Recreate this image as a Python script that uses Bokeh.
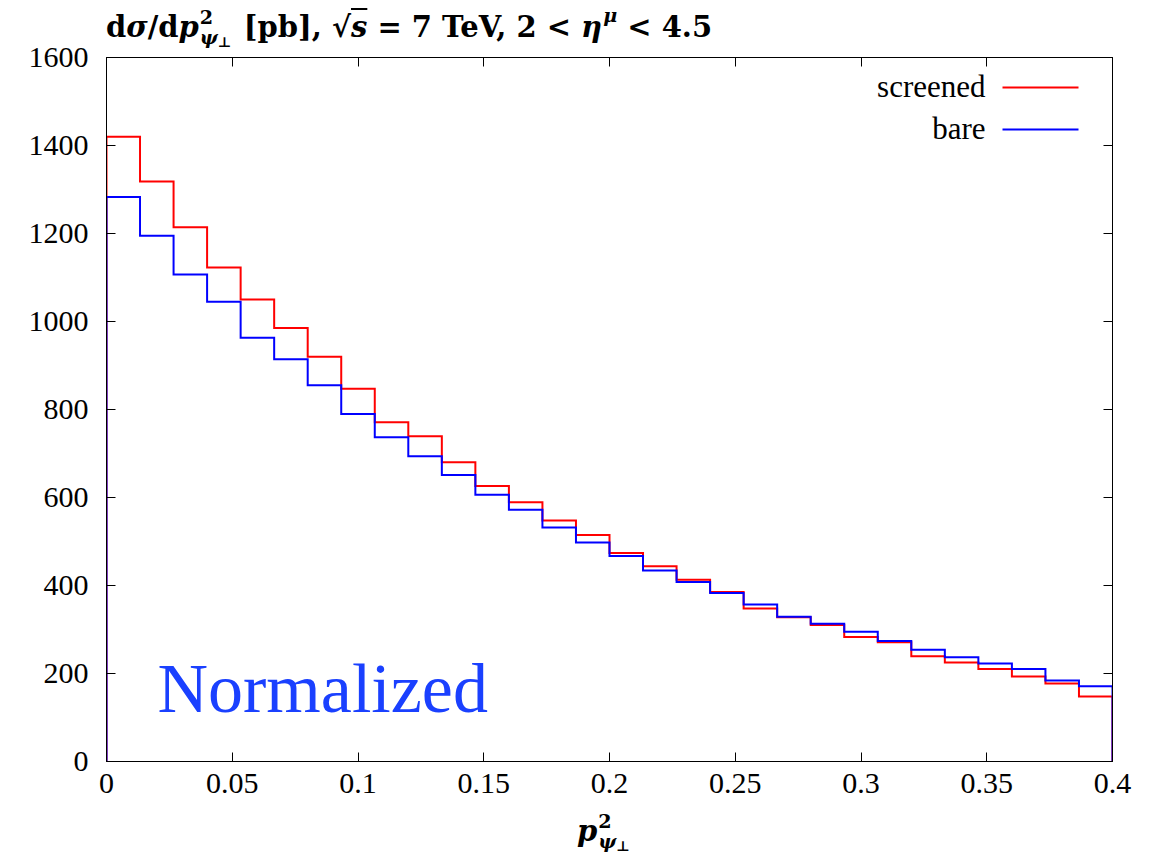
import numpy as np
from bokeh.plotting import figure
from bokeh.models import Range1d, LinearAxis, FixedTicker, Label, Arrow, Div
from bokeh.layouts import column
from bokeh.embed import file_html
from bokeh.resources import INLINE

# ---- data -------------------------------------------------------------
x_min, x_max, n_bins = 0.0, 0.4, 30
screened = [1420, 1318, 1214, 1123, 1050, 985, 920, 847, 771, 739,
            680, 626, 589, 548, 515, 474, 444, 413, 385, 348,
            328, 310, 283, 271, 239, 225, 210, 193, 177, 148]
bare = [1283, 1195, 1107, 1045, 963, 914, 855, 790, 737, 694,
        651, 606, 572, 532, 498, 467, 434, 408, 383, 357,
        329, 313, 295, 274, 254, 237, 223, 210, 184, 171]
x_ticks = [0, 0.05, 0.1, 0.15, 0.2, 0.25, 0.3, 0.35, 0.4]
x_tick_labels = ["0", "0.05", "0.1", "0.15", "0.2", "0.25", "0.3", "0.35", "0.4"]
y_ticks = [0, 200, 400, 600, 800, 1000, 1200, 1400, 1600]
series_names = ["screened", "bare"]
series_colors = ["#ff0000", "#0000ff"]
annotation_text = "Normalized"

edges = np.linspace(x_min, x_max, n_bins + 1)


def step_path(vals):
    xs = np.repeat(edges, 2)
    ys = np.concatenate([[0.0], np.repeat(np.asarray(vals, float), 2), [0.0]])
    return xs, ys


FONT = "Liberation Serif"
W = 1150
TITLE_H = 39
PLOT_H = 769
XLAB_H = 42

p = figure(width=W, height=PLOT_H, output_backend="svg", toolbar_location=None,
           x_range=Range1d(0, 0.4), y_range=Range1d(0, 1600),
           min_border_left=106, min_border_right=W - 1112,
           min_border_top=57 - TITLE_H,
           min_border_bottom=PLOT_H - (57 - TITLE_H) - 704)
p.grid.visible = False
p.outline_line_color = "black"
p.outline_line_width = 1
p.background_fill_color = "white"
p.border_fill_color = None


def style_axis(ax, show_labels=True):
    ax.major_tick_in = 9
    ax.major_tick_out = 0
    ax.minor_tick_line_color = None
    ax.axis_line_color = "black"
    ax.axis_line_width = 1
    ax.major_tick_line_color = "black"
    ax.major_tick_line_width = 1
    ax.major_label_text_font = FONT
    ax.major_label_text_color = "black"
    if show_labels:
        ax.major_label_text_font_size = "30px"
    else:
        ax.major_label_text_font_size = "1px"
        ax.major_label_text_color = None
        ax.major_label_standoff = 0


p.xaxis.ticker = FixedTicker(ticks=x_ticks)
p.xaxis.major_label_overrides = {t: l for t, l in zip(x_ticks, x_tick_labels)}
p.yaxis.ticker = FixedTicker(ticks=y_ticks)
style_axis(p.xaxis[0])
style_axis(p.yaxis[0])
p.xaxis.major_label_standoff = 12
p.yaxis.major_label_standoff = 18

top_ax = LinearAxis(ticker=FixedTicker(ticks=x_ticks))
right_ax = LinearAxis(ticker=FixedTicker(ticks=y_ticks))
style_axis(top_ax, False)
style_axis(right_ax, False)
p.add_layout(top_ax, "above")
p.add_layout(right_ax, "right")

# ---- histograms -------------------------------------------------------
for vals, col in zip([screened, bare], series_colors):
    xs, ys = step_path(vals)
    p.line(xs, ys, line_color=col, line_width=2, line_join="miter")

# ---- legend (gnuplot style: text left of sample) ----------------------
leg_text_y = [675, 633]
leg_line_y = [674, 632]
for name, col, ty, ly in zip(series_names, series_colors, leg_text_y, leg_line_y):
    p.add_layout(Label(x=879, y=ty, x_units="screen", y_units="screen",
                       text=name, text_align="right", text_baseline="alphabetic",
                       text_font=FONT, text_font_size="31px", text_color="black"))
    p.add_layout(Arrow(x_start=896, y_start=ly, x_end=972, y_end=ly,
                       start_units="screen", end_units="screen",
                       start=None, end=None, line_color=col, line_width=2))

# ---- "Normalized" annotation -----------------------------------------
p.add_layout(Label(x=51, y=73, x_units="screen", y_units="screen",
                   text=annotation_text, text_align="left", text_baseline="alphabetic",
                   text_font=FONT, text_font_size="70px", text_color="#1a40ff"))

# ---- title and x label (flowing HTML with stacked super/subscript) ----
STACK = ("<span style='display:inline-block;vertical-align:-7px;font-size:0.66em;"
         "line-height:1.02;margin-left:1px;margin-right:2px'>2<br><i>ψ</i>"
         "<span style='font-size:0.75em;position:relative;top:0.25em'>⊥</span></span>")
title_html = (
    "d<i>σ</i>/d<i>p</i>" + STACK +
    " [pb], √<span style='text-decoration:overline'><i>s</i></span> = 7 TeV, "
    "2 &lt; <i>η</i><span style='font-size:0.66em;position:relative;top:-0.75em;"
    "margin-left:1px'><i>μ</i></span> &lt; 4.5"
)


def text_block(html, left, top, size, height):
    return ("<div style=\"position:relative;width:%dpx;height:%dpx;overflow:visible;\">"
            "<div style=\"position:absolute;left:%dpx;top:%dpx;font-family:'DejaVu Serif';"
            "font-weight:bold;font-size:%dpx;line-height:1;white-space:nowrap;color:black;\">"
            "%s</div></div>") % (W, height, left, top, size, html)


title_div = Div(text=text_block(title_html, 106, 8, 29, TITLE_H),
                width=W, height=TITLE_H, margin=(0, 0, 0, 0), disable_math=True,
                styles={"overflow": "visible", "z-index": "5"})

xlab_html = "<i>p</i>" + STACK
xlab_div = Div(text=text_block(xlab_html, 577, 840 - (TITLE_H + PLOT_H) - 28, 29, XLAB_H),
               width=W, height=XLAB_H, margin=(0, 0, 0, 0), disable_math=True,
               styles={"overflow": "visible"})

layout = column(title_div, p, xlab_div, spacing=0)

open("out.html", "w").write(file_html(layout, INLINE))
